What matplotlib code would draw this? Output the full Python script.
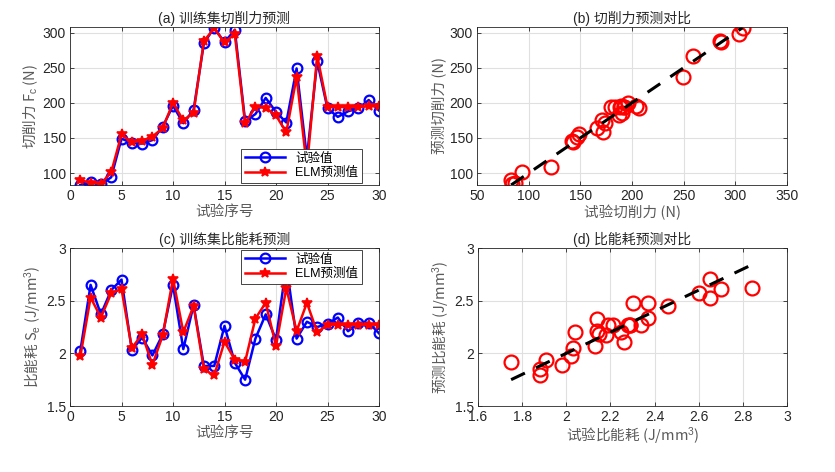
import numpy as np
import matplotlib
matplotlib.use('Agg')
import matplotlib.pyplot as plt

plt.rcParams['font.family'] = ['Liberation Sans', 'Noto Sans CJK SC', 'DejaVu Sans']
plt.rcParams['axes.unicode_minus'] = False
plt.rcParams['mathtext.fontset'] = 'custom'
plt.rcParams['mathtext.rm'] = 'Liberation Sans'
plt.rcParams['mathtext.it'] = 'Liberation Sans:italic'

CJK = ['Noto Sans CJK SC', 'DejaVu Sans']

# sample index
idx = np.arange(1, 31)

# cutting force (N)
fc_exp = [83, 87, 84, 94, 149, 143, 142, 147, 166, 196,
          171, 190, 285, 307, 286, 304, 174, 184, 207, 187,
          172, 249, 122, 259, 192, 180, 188, 192, 204, 189]
fc_elm = [90, 86, 85, 101, 155, 144, 146, 152, 164, 200,
          175, 186, 288, 306, 286, 298, 171, 194, 193, 182,
          158, 237, 108, 267, 194, 194, 194, 194, 195, 195]

# specific energy consumption (J/mm^3)
se_exp = [2.02, 2.65, 2.37, 2.60, 2.70, 2.03, 2.15, 1.98, 2.18, 2.65,
          2.04, 2.46, 1.88, 1.88, 2.26, 1.91, 1.75, 2.14, 2.37, 2.13,
          2.84, 2.14, 2.30, 2.25, 2.28, 2.34, 2.21, 2.29, 2.29, 2.19]
se_elm = [1.97, 2.53, 2.34, 2.57, 2.61, 2.05, 2.18, 1.89, 2.17, 2.71,
          2.20, 2.45, 1.85, 1.79, 2.11, 1.94, 1.92, 2.33, 2.48, 2.07,
          2.62, 2.21, 2.48, 2.20, 2.27, 2.27, 2.27, 2.27, 2.27, 2.27]

W, H = 835, 472
fig = plt.figure(figsize=(W / 100, H / 100), dpi=100)


def make_ax(l, t, r, b):
    return fig.add_axes([l / W, 1 - b / H, (r - l) / W, (b - t) / H])


ax_a = make_ax(70, 27, 379, 185)
ax_b = make_ax(477, 27, 787, 185)
ax_c = make_ax(70, 248, 379, 406)
ax_d = make_ax(478, 248, 787, 406)

txt = '#262626'
lbl = '#5a5a5a'
for ax in (ax_a, ax_b, ax_c, ax_d):
    ax.grid(True, color='#e0e0e0', linewidth=0.8)
    ax.set_axisbelow(True)
    for s in ax.spines.values():
        s.set_color('#262626')
        s.set_linewidth(0.6)
    ax.tick_params(direction='in', length=3, width=0.6, labelsize=10, colors=txt,
                   top=True, right=True, pad=3)


def line_panel(ax, exp, elm, title, ylabel, box):
    ax.plot(idx, exp, '-o', color='b', linewidth=1.8, markersize=7,
            markerfacecolor='none', markeredgewidth=1.6, label='试验值')
    ax.plot(idx, elm, '-*', color='r', linewidth=1.8, markersize=7,
            markeredgewidth=1.2, label='ELM预测值')
    ax.set_title(title, fontsize=10, color=txt, pad=3)
    ax.set_xlabel('试验序号', fontsize=10.5, color=lbl, labelpad=1)
    ax.set_ylabel(ylabel, fontsize=10.5, color=lbl, labelpad=2, family=CJK)
    ax.set_xlim(0, 30)
    ax.set_xticks([0, 5, 10, 15, 20, 25, 30])
    l, t, r, b = box
    leg = ax.legend(loc='center', bbox_to_anchor=(l / W, 1 - b / H, (r - l) / W, (b - t) / H),
                    bbox_transform=fig.transFigure,
                    fontsize=9, fancybox=False, framealpha=1, edgecolor='#262626',
                    borderpad=0.3, handlelength=3.2, labelspacing=0.2, borderaxespad=0.0)
    leg.get_frame().set_linewidth(0.6)


line_panel(ax_a, fc_exp, fc_elm, '(a) 训练集切削力预测', '切削力 F$_\\mathrm{c}$ (N)', (251, 150, 352, 182))
ax_a.set_ylim(83, 308)
ax_a.set_yticks([100, 150, 200, 250, 300])

line_panel(ax_c, se_exp, se_elm, '(c) 训练集比能耗预测', '比能耗 S$_\\mathrm{e}$ (J/mm$^3$)', (251, 252, 352, 282))
ax_c.set_ylim(1.5, 3)
ax_c.set_yticks([1.5, 2, 2.5, 3])
ax_c.set_yticklabels(['1.5', '2', '2.5', '3'])


def scatter_panel(ax, exp, elm, title, xlabel, ylabel):
    ax.plot(exp, elm, 'o', color='r', markersize=10, markerfacecolor='none',
            markeredgewidth=1.6, linestyle='none')
    lo, hi = min(exp), max(exp)
    ax.plot([lo, hi], [lo, hi], '--', color='k', linewidth=2.2, dashes=(5, 4))
    ax.set_title(title, fontsize=10, color=txt, pad=3)
    ax.set_xlabel(xlabel, fontsize=10.5, color=lbl, labelpad=1, family=CJK)
    ax.set_ylabel(ylabel, fontsize=10.5, color=lbl, labelpad=2, family=CJK)


scatter_panel(ax_b, fc_exp, fc_elm, '(b) 切削力预测对比', '试验切削力 (N)', '预测切削力 (N)')
ax_b.set_xlim(50, 350)
ax_b.set_ylim(83, 308)
ax_b.set_yticks([100, 150, 200, 250, 300])

scatter_panel(ax_d, se_exp, se_elm, '(d) 比能耗预测对比', '试验比能耗 (J/mm$^3$)', '预测比能耗 (J/mm$^3$)')
ax_d.set_xlim(1.6, 3)
ax_d.set_ylim(1.5, 3)
ax_d.set_xticks([1.6, 1.8, 2, 2.2, 2.4, 2.6, 2.8, 3])
ax_d.set_xticklabels(['1.6', '1.8', '2', '2.2', '2.4', '2.6', '2.8', '3'])
ax_d.set_yticks([1.5, 2, 2.5, 3])
ax_d.set_yticklabels(['1.5', '2', '2.5', '3'])

fig.savefig('out.png', dpi=100)
